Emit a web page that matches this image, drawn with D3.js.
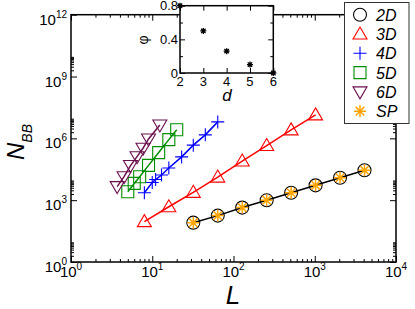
<!DOCTYPE html>
<html lang="en">
<head>
  <meta charset="UTF-8">
  <title>N_BB vs L</title>
  <script src="https://cdnjs.cloudflare.com/ajax/libs/d3/7.8.5/d3.min.js"></script>
  <style>
    body { margin: 0; background: #fff; }
    text { font-family: "Liberation Sans", Arial, sans-serif; }
  </style>
</head>
<body>
  <svg width="415" height="309"></svg>
  <script>
    // data
    const L2 = [32, 64, 128, 256, 512, 1024, 2048, 4096];
    const N2 = [81, 178, 437, 1000, 2290, 5250, 12300, 28200];
    const L3 = [8, 16, 32, 64, 128, 256, 512, 1024];
    const N3 = [91, 479, 2400, 13200, 79400, 447000, 2570000, 13800000];
    const L4 = [8, 10, 11, 13, 16, 23, 32, 45, 64];
    const N4 = [2290, 7240, 10000, 16600, 36300, 126000, 468000, 1480000, 6300000];
    const L5 = [5, 6, 7, 9, 12, 16, 20];
    const N5 = [2570, 6500, 13800, 49000, 204000, 870000, 2600000];
    const L6 = [3.7, 4.5, 5.4, 6.5, 7.7, 9, 12.4];
    const N6 = [4570, 13800, 47900, 129000, 331000, 933000, 4470000];

    // inset
    const dims = [2, 3, 4, 5, 6];
    const phi = [0.8, 0.5, 0.26, 0.1, 0];

    const xExp = [0, 1, 2, 3, 4];
    const yExp = [0, 3, 6, 9, 12];
    const legendNames = ['2D', '3D', '4D', '5D', '6D', 'SP'];

    const svg = d3.select('svg');

    const x = d3.scaleLog().domain([1, 1e4]).range([71, 396]);
    const y = d3.scaleLog().domain([1, 1e12]).range([262, 14.7]);

    // minor ticks
    const xMinor = [];
    xExp.slice(0, -1).forEach(e => { for (let k = 2; k <= 9; k++) xMinor.push(k * Math.pow(10, e)); });
    const yMinor = [];
    yExp.slice(0, -1).forEach(e => { for (let k = 2; k <= 9; k++) yMinor.push(k * Math.pow(10, e)); });
    const xMajor = xExp.map(e => Math.pow(10, e));
    const yMajor = yExp.map(e => Math.pow(10, e));

    function drawAxis(axisFn, scale, vals, size, tr) {
      const g = svg.append('g').attr('transform', tr)
        .call(axisFn(scale).tickValues(vals).tickSize(size).tickFormat(''));
      g.select('.domain').remove();
      g.selectAll('line').attr('stroke', '#000').attr('stroke-width', 1);
      return g;
    }
    // ticks inward on all four sides
    drawAxis(d3.axisBottom, x, xMajor, -6, 'translate(0,262)');
    drawAxis(d3.axisBottom, x, xMinor, -3, 'translate(0,262)');
    drawAxis(d3.axisTop, x, xMajor, -6, 'translate(0,14.7)');
    drawAxis(d3.axisTop, x, xMinor, -3, 'translate(0,14.7)');
    drawAxis(d3.axisLeft, y, yMajor, -6, 'translate(71,0)');
    drawAxis(d3.axisLeft, y, yMinor, -3, 'translate(71,0)');
    drawAxis(d3.axisRight, y, yMajor, -6, 'translate(396,0)');
    drawAxis(d3.axisRight, y, yMinor, -3, 'translate(396,0)');

    svg.append('rect')
      .attr('x', 71).attr('y', 14.7)
      .attr('width', 396 - 71).attr('height', 262 - 14.7)
      .attr('fill', 'none').attr('stroke', '#000').attr('stroke-width', 1.5);

    // tick labels
    xExp.forEach(e => {
      const t = svg.append('text')
        .attr('x', x(Math.pow(10, e))).attr('y', 277)
        .attr('text-anchor', 'middle').attr('font-size', 15).text('10');
      t.append('tspan').attr('dy', -7).attr('font-size', 10).text(e);
    });
    yExp.forEach(e => {
      const t = svg.append('text')
        .attr('x', 67).attr('y', y(Math.pow(10, e)) + 10)
        .attr('text-anchor', 'end').attr('font-size', 15).text('10');
      t.append('tspan').attr('dy', -7).attr('font-size', 10).text(e);
    });

    // axis titles
    svg.append('text')
      .attr('x', 233).attr('y', 304)
      .attr('text-anchor', 'middle')
      .attr('font-size', 26).attr('font-style', 'italic').text('L');
    const yl = svg.append('text')
      .attr('transform', 'translate(24,142) rotate(-90)')
      .attr('text-anchor', 'middle')
      .attr('font-size', 24).attr('font-style', 'italic').text('N');
    yl.append('tspan').attr('dy', 8).attr('font-size', 14).text('BB');

    // marker shapes
    const shapes = {
      circle: 'M6.5,0A6.5,6.5,0,1,1,-6.5,0A6.5,6.5,0,1,1,6.5,0Z',
      tri: 'M0,-7L7,5L-7,5Z',
      plus: 'M-6.5,0H6.5M0,-6.5V6.5',
      square: 'M-6,-6H6V6H-6Z',
      tridown: 'M0,7L7,-5L-7,-5Z',
      star: 'M-6,0H6M0,-6V6M-4.3,-4.3L4.3,4.3M-4.3,4.3L4.3,-4.3'
    };

    const series = [
      { L: L2, N: N2, color: '#000000', shape: 'circle' },
      { L: L3, N: N3, color: '#ff0000', shape: 'tri' },
      { L: L4, N: N4, color: '#0000ff', shape: 'plus' },
      { L: L5, N: N5, color: '#008c00', shape: 'square' },
      { L: L6, N: N6, color: '#6b0f4c', shape: 'tridown' },
      { L: L2, N: N2, color: '#ffa500', shape: 'star' }
    ];

    const line = d3.line().x(d => x(d[0])).y(d => y(d[1]));

    series.slice(0, 5).forEach(s => {
      const pts = s.L.map((l, i) => [l, s.N[i]]);
      svg.append('path')
        .attr('d', line(pts))
        .attr('fill', 'none').attr('stroke', s.color).attr('stroke-width', 1.5);
    });

    series.forEach(s => {
      const pts = s.L.map((l, i) => [l, s.N[i]]);
      svg.append('g').selectAll('path')
        .data(pts)
        .join('path')
        .attr('transform', d => `translate(${x(d[0])},${y(d[1])})`)
        .attr('d', shapes[s.shape])
        .attr('fill', 'none')
        .attr('stroke', s.color)
        .attr('stroke-width', s.shape === 'star' ? 1.5 : 1.1);
    });

    // inset
    const xi = d3.scaleLinear().domain([2, 6]).range([180, 273.3]);
    const yi = d3.scaleLinear().domain([0, 0.8]).range([73, 5.7]);

    svg.append('rect')
      .attr('x', 180).attr('y', 5.7)
      .attr('width', 273.3 - 180).attr('height', 73 - 5.7)
      .attr('fill', '#fff');

    function insetAxis(axisFn, scale, vals, size, tr) {
      const g = svg.append('g').attr('transform', tr)
        .call(axisFn(scale).tickValues(vals).tickSize(size).tickFormat(''));
      g.select('.domain').remove();
      g.selectAll('line').attr('stroke', '#000').attr('stroke-width', 1);
    }
    insetAxis(d3.axisBottom, xi, dims, -5, 'translate(0,73)');
    insetAxis(d3.axisTop, xi, dims, -5, 'translate(0,5.7)');
    insetAxis(d3.axisLeft, yi, [0, 0.4, 0.8], -5, 'translate(180,0)');
    insetAxis(d3.axisLeft, yi, [0.2, 0.6], -3, 'translate(180,0)');
    insetAxis(d3.axisRight, yi, [0, 0.4, 0.8], -5, 'translate(273.3,0)');
    insetAxis(d3.axisRight, yi, [0.2, 0.6], -3, 'translate(273.3,0)');

    svg.append('rect')
      .attr('x', 180).attr('y', 5.7)
      .attr('width', 273.3 - 180).attr('height', 73 - 5.7)
      .attr('fill', 'none').attr('stroke', '#000').attr('stroke-width', 1.5);

    dims.forEach(d => {
      svg.append('text')
        .attr('x', xi(d)).attr('y', 86)
        .attr('text-anchor', 'middle').attr('font-size', 13).text(d);
    });
    [0, 0.4, 0.8].forEach(v => {
      svg.append('text')
        .attr('x', 178).attr('y', yi(v) + 4.5)
        .attr('text-anchor', 'end').attr('font-size', 13).text(v);
    });
    svg.append('text')
      .attr('x', 227).attr('y', 101)
      .attr('text-anchor', 'middle').attr('font-size', 17)
      .attr('font-style', 'italic').text('d');
    svg.append('text')
      .attr('transform', 'translate(148,40) rotate(-90)')
      .attr('text-anchor', 'middle').attr('font-size', 14).text('φ');

    svg.append('g').selectAll('path')
      .data(dims.map((d, i) => [d, phi[i]]))
      .join('path')
      .attr('transform', d => `translate(${xi(d[0])},${yi(d[1])})`)
      .attr('d', 'M-3,0H3M0,-3V3M-2.2,-2.2L2.2,2.2M-2.2,2.2L2.2,-2.2')
      .attr('stroke', '#000').attr('stroke-width', 1.3);

    // legend
    const lg = svg.append('g');
    lg.append('rect')
      .attr('x', 344.5).attr('y', 2.5).attr('width', 64.5).attr('height', 121)
      .attr('fill', '#fff').attr('stroke', '#333').attr('stroke-width', 1);
    legendNames.forEach((name, i) => {
      const yy = 14.7 + i * 19.3;
      lg.append('path')
        .attr('transform', `translate(360,${yy})`)
        .attr('d', shapes[series[i].shape])
        .attr('fill', 'none').attr('stroke', series[i].color)
        .attr('stroke-width', series[i].shape === 'star' ? 1.5 : 1.1);
      lg.append('text')
        .attr('x', 376).attr('y', yy + 6)
        .attr('font-size', 16).attr('font-style', 'italic').text(name);
    });
  </script>
</body>
</html>
